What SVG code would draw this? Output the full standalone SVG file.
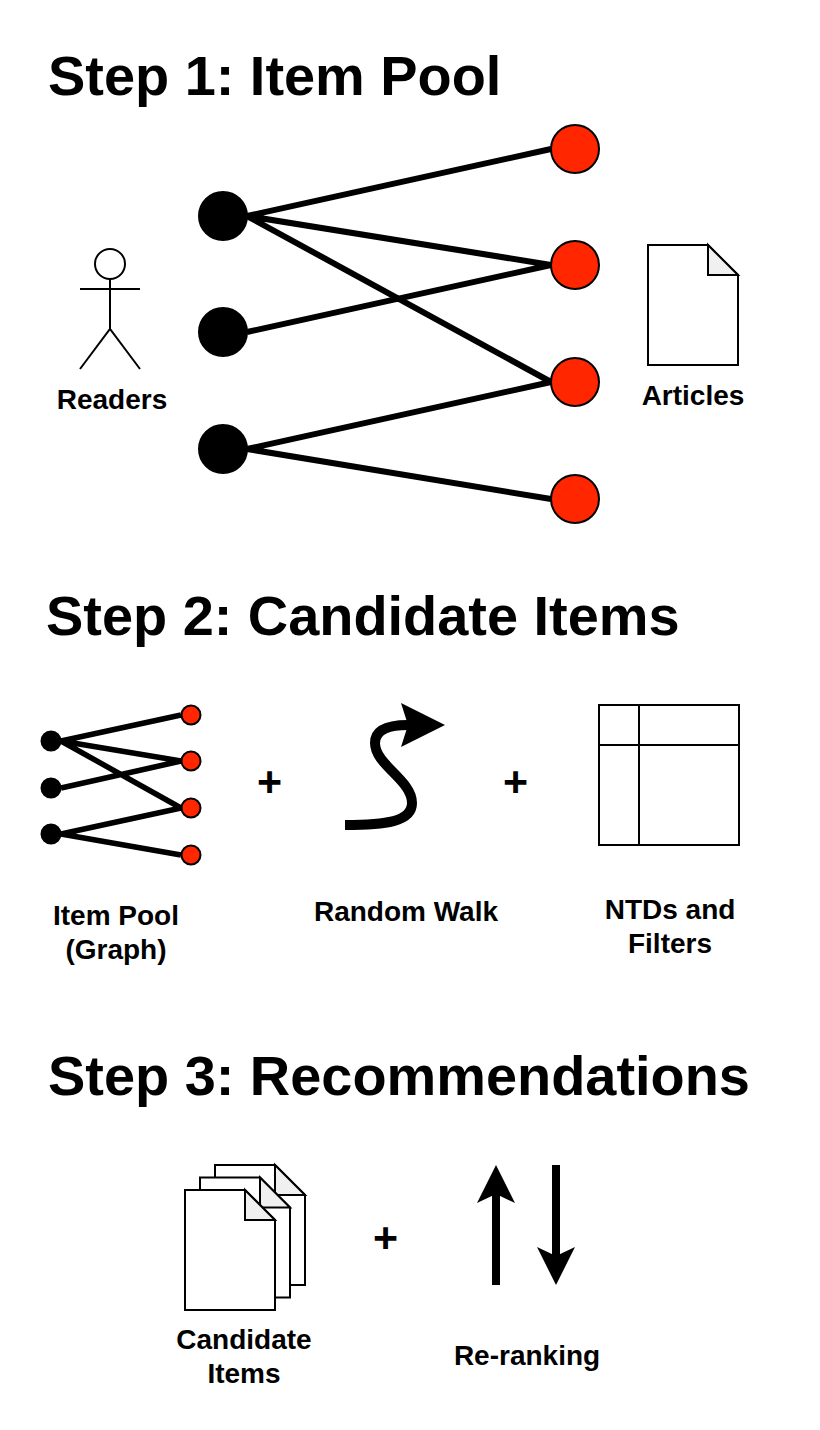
<svg xmlns="http://www.w3.org/2000/svg" width="820" height="1430" viewBox="0 0 820 1430">
<style>
text{font-family:"Liberation Sans",Arial,sans-serif;font-weight:bold;fill:#000}
.t{font-size:55.900px}
.l{font-size:28px;text-anchor:middle}
.p{font-size:43px;text-anchor:middle}
.e1{stroke:#000;stroke-width:6;fill:none}
.e2{stroke:#000;stroke-width:5.500;fill:none}
.b{fill:#000;stroke:#000;stroke-width:2}
.r{fill:#ff2600;stroke:#000;stroke-width:2}
.o{fill:#fff;stroke:#000;stroke-width:2}
.f{fill:#f0f0f0;stroke:#000;stroke-width:2;stroke-linejoin:miter}
.s{stroke:#000;stroke-width:2;fill:none}
</style>
<rect width="820" height="1430" fill="#fff"/>
<g id="titles">
<text class="t" x="48" y="95">Step 1: Item Pool</text>
<text class="t" x="46" y="635">Step 2: Candidate Items</text>
<text class="t" x="48" y="1095">Step 3: Recommendations</text>
</g>
<g id="connectors">
<path class="e1" d="M247 216L551 149M247 216L551 265M247 216L551 382M247 332L551 265M247 449L551 382M247 449L551 499"/>
<path class="e2" d="M61 741L181 715M61 741L181 761M61 741L181 808M61 788L181 761M61 834L181 808M61 834L181 855"/>
</g>
<g id="reader1"><circle class="b" cx="223" cy="216" r="24"/></g>
<g id="reader2"><circle class="b" cx="223" cy="332" r="24"/></g>
<g id="reader3"><circle class="b" cx="223" cy="449" r="24"/></g>
<g id="article1"><circle class="r" cx="575" cy="149" r="24"/></g>
<g id="article2"><circle class="r" cx="575" cy="265" r="24"/></g>
<g id="article3"><circle class="r" cx="575" cy="382" r="24"/></g>
<g id="article4"><circle class="r" cx="575" cy="499" r="24"/></g>
<g id="actor">
<circle class="o" cx="110" cy="264" r="15"/>
<path class="s" d="M110 279V329M80 289H140M80 369L110 329L140 369"/>
<text class="l" x="112" y="409">Readers</text>
</g>
<g id="articles">
<path class="o" d="M648 245H708L738 275V365H648Z"/>
<path class="f" d="M708 245V275H738Z"/>
<text class="l" x="693" y="405">Articles</text>
</g>
<g id="mini-graph">
<circle class="b" cx="51" cy="741" r="9.500"/><circle class="b" cx="51" cy="788" r="9.500"/><circle class="b" cx="51" cy="834" r="9.500"/>
<circle class="r" cx="191" cy="715" r="9.500"/><circle class="r" cx="191" cy="761" r="9.500"/><circle class="r" cx="191" cy="808" r="9.500"/><circle class="r" cx="191" cy="855" r="9.500"/>
<text class="l" x="116" y="925">Item Pool</text>
<text class="l" x="116" y="959">(Graph)</text>
</g>
<g id="plus1"><text class="p" x="269.500" y="796">+</text></g>
<g id="random-walk">
<path d="M345 825C385 825 412 822 412 803C412 780 375 765 375 743C375 730 388 725 408 725" fill="none" stroke="#000" stroke-width="10"/>
<path d="M445 725L401 703L408 725L401 747Z" fill="#000"/>
<text class="l" x="406" y="921">Random Walk</text>
</g>
<g id="plus2"><text class="p" x="515.500" y="796">+</text></g>
<g id="table">
<rect class="o" x="599" y="705" width="140" height="140"/>
<path class="s" d="M599 745H739M639 705V845"/>
<text class="l" x="670" y="919">NTDs and</text>
<text class="l" x="670" y="953">Filters</text>
</g>
<g id="candidate-items">
<path class="o" d="M215 1165H275L305 1195V1285H215Z"/><path class="f" d="M275 1165V1195H305Z"/>
<path class="o" d="M200 1177.500H260L290 1207.500V1297.500H200Z"/><path class="f" d="M260 1177.500V1207.500H290Z"/>
<path class="o" d="M185 1190H245L275 1220V1310H185Z"/><path class="f" d="M245 1190V1220H275Z"/>
<text class="l" x="244" y="1349">Candidate</text>
<text class="l" x="244" y="1383">Items</text>
</g>
<g id="plus3"><text class="p" x="385.500" y="1252">+</text></g>
<g id="re-ranking">
<path d="M496 1285V1190M556 1165V1260" stroke="#000" stroke-width="8" fill="none"/>
<path d="M496 1165L515 1203L496 1194L477 1203Z" fill="#000"/>
<path d="M556 1285L537 1247L556 1256L575 1247Z" fill="#000"/>
<text class="l" x="527" y="1365">Re-ranking</text>
</g>
</svg>
